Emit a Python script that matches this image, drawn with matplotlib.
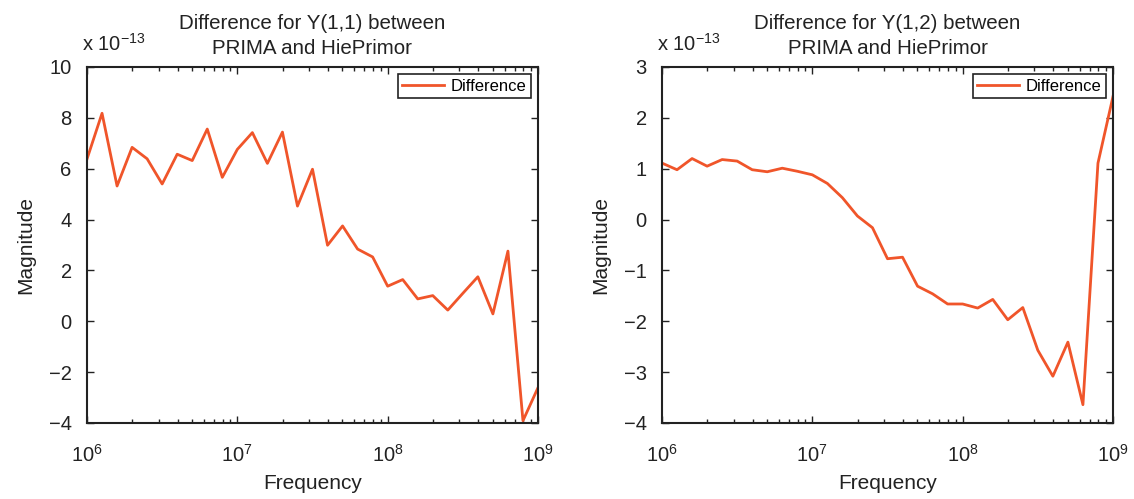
import numpy as np
import matplotlib
matplotlib.use("Agg")
import matplotlib.pyplot as plt
from matplotlib.ticker import LogLocator, LogFormatterMathtext, MultipleLocator

plt.rcParams['font.family'] = ['Liberation Sans', 'DejaVu Sans']
plt.rcParams['mathtext.fontset'] = 'custom'
plt.rcParams['mathtext.rm'] = 'Liberation Sans'
plt.rcParams['mathtext.it'] = 'Liberation Sans:italic'

# Frequency exponents: 10^6 ... 10^9 in steps of 0.1 decade
exponents = [6.0 + 0.1 * k for k in range(31)]
freq = [10 ** e for e in exponents]

diff_y11 = [6.38, 8.18, 5.32, 6.84, 6.39, 5.40, 6.57, 6.32, 7.56, 5.66,
            6.76, 7.42, 6.21, 7.44, 4.53, 5.98, 2.99, 3.75, 2.84, 2.53,
            1.38, 1.64, 0.88, 1.01, 0.44, 1.10, 1.75, 0.29, 2.76, -3.91, -2.61]
diff_y12 = [1.11, 0.98, 1.20, 1.05, 1.18, 1.15, 0.98, 0.94, 1.01, 0.95,
            0.88, 0.71, 0.43, 0.07, -0.16, -0.77, -0.74, -1.31, -1.46, -1.66,
            -1.66, -1.74, -1.57, -1.97, -1.73, -2.57, -3.08, -2.41, -3.64, 1.11, 2.42]

titles = ["Difference for Y(1,1) between\nPRIMA and HiePrimor",
          "Difference for Y(1,2) between\nPRIMA and HiePrimor"]
ylims = [(-4, 10), (-4, 3)]
ysteps = [2, 1]
series = [diff_y11, diff_y12]
scale_label = r"x 10$^{-13}$"
legend_label = "Difference"
line_color = '#F0552A'
ink = '#222222'

fig = plt.figure(figsize=(11.34, 4.99), dpi=100)
W, H = 1134, 499
axes_px = [(87, 67, 538, 423), (662, 67, 1113, 423)]

for i, (x0, y0, x1, y1) in enumerate(axes_px):
    ax = fig.add_axes([x0 / W, 1 - y1 / H, (x1 - x0) / W, (y1 - y0) / H])
    ax.plot(freq, series[i], color=line_color, lw=2, label=legend_label)
    ax.set_xscale('log')
    ax.set_xlim(1e6, 1e9)
    ax.set_ylim(*ylims[i])
    ax.yaxis.set_major_locator(MultipleLocator(ysteps[i]))
    ax.xaxis.set_major_locator(LogLocator(base=10, numticks=10))
    ax.xaxis.set_minor_locator(LogLocator(base=10, subs=np.arange(2, 10), numticks=20))
    ax.xaxis.set_major_formatter(LogFormatterMathtext())
    ax.tick_params(which='both', direction='in', top=True, right=True,
                   labelsize=14.5, colors=ink, width=1.0)
    ax.tick_params(which='major', length=5)
    ax.tick_params(which='minor', length=3)
    ax.tick_params(axis='y', which='major', pad=11)
    ax.tick_params(axis='x', which='major', pad=15)
    for sp in ax.spines.values():
        sp.set_linewidth(1.5)
        sp.set_color(ink)
    ax.set_xlabel("Frequency", fontsize=15, color=ink, labelpad=6)
    ax.set_ylabel("Magnitude", fontsize=15, color=ink, labelpad=10)
    ax.set_title(titles[i], fontsize=14.8, color=ink, pad=9, linespacing=1.45)
    leg = ax.legend(loc='upper right', fontsize=12, fancybox=False, framealpha=1,
                    edgecolor=ink, borderaxespad=0.45, handlelength=2.5,
                    borderpad=0.25, handletextpad=0.4)
    leg.get_frame().set_linewidth(1.2)
    fig.text((x0 - 5) / W, 1 - 44 / H, scale_label, fontsize=14.5, color=ink,
             ha='left', va='center')

fig.savefig("out.png", dpi=100, facecolor='white')
